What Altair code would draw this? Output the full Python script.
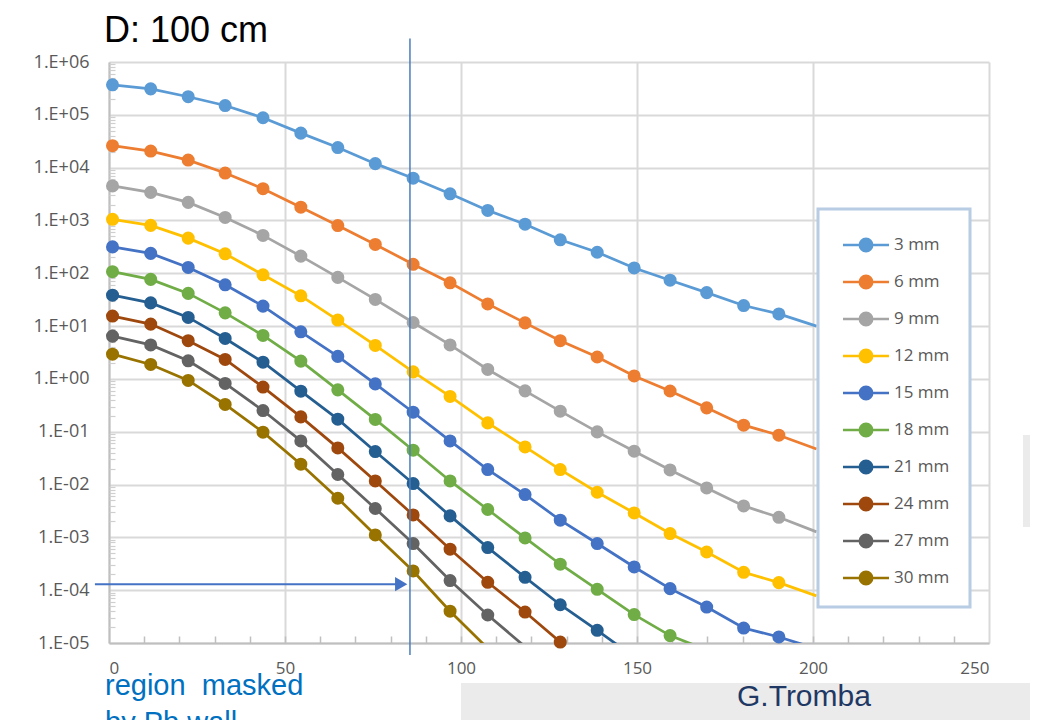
import altair as alt
import pandas as pd

# ---------------- data ----------------
x_pos = [1.0, 11.85, 22.5, 33.0, 43.75, 54.5, 65.0, 75.65, 86.4, 96.9,
         107.6, 118.2, 128.2, 138.7, 149.2, 159.4, 169.8, 180.3, 190.3, 201.0]

series = ["3 mm", "6 mm", "9 mm", "12 mm", "15 mm", "18 mm", "21 mm", "24 mm", "27 mm", "30 mm"]
colors = ["#5B9BD5", "#ED7D31", "#A5A5A5", "#FFC000", "#4472C4",
          "#70AD47", "#255E91", "#9E480E", "#636363", "#997300"]

v3 = [3.7e5, 3.1e5, 2.2e5, 1.5e5, 8.8e4, 4.5e4, 2.4e4, 1.19e4, 6.3e3, 3.2e3,
      1.55e3, 850, 430, 250, 126, 74, 43, 24.5, 17, 10]
v6 = [2.6e4, 2.06e4, 1.39e4, 7.9e3, 4.0e3, 1.78e3, 800, 352, 148, 66,
      26.3, 11.5, 5.3, 2.6, 1.14, 0.59, 0.283, 0.133, 0.086, 0.047]
v9 = [4.5e3, 3.4e3, 2.2e3, 1.14e3, 521, 211, 83.6, 32, 11.7, 4.4,
      1.51, 0.594, 0.245, 0.0993, 0.0428, 0.0189, 0.00863, 0.00394, 0.0024, 0.00127]
v12 = [1.05e3, 807, 463, 234, 93.5, 37.4, 13.0, 4.3, 1.36, 0.465,
       0.147, 0.0516, 0.0192, 0.00715, 0.0029, 0.00118, 5.28e-4, 2.18e-4, 1.39e-4, 7.8e-5]
v15 = [316, 238, 129, 60.4, 23.9, 7.8, 2.67, 0.805, 0.234, 0.067,
       0.0192, 0.00647, 0.00211, 7.64e-4, 2.75e-4, 1.07e-4, 4.8e-5, 1.92e-5, 1.3e-5, 7.8e-6]
v18 = [107, 76.6, 41.6, 17.8, 6.65, 2.17, 0.62, 0.171, 0.0447, 0.0117,
       0.00337, 9.75e-4, 3.1e-4, 1.04e-4, 3.45e-5, 1.38e-5, 7.4e-6]
v21 = [38.5, 27.5, 14.6, 5.83, 2.07, 0.586, 0.173, 0.0422, 0.01045, 0.00255,
       6.4e-4, 1.75e-4, 5.3e-5, 1.74e-5, 5.4e-6]
v24 = [15.5, 10.9, 5.3, 2.34, 0.7, 0.191, 0.0494, 0.0117, 0.00266, 5.96e-4,
       1.41e-4, 3.86e-5, 1.04e-5, 2.5e-6]
v27 = [6.46, 4.4, 2.2, 0.82, 0.252, 0.067, 0.0155, 0.00352, 7.64e-4, 1.52e-4,
       3.39e-5, 8.5e-6]
v30 = [2.94, 1.88, 0.935, 0.328, 0.098, 0.0243, 0.0055, 0.00111, 2.31e-4, 4.0e-5,
       7.9e-6]
values = [v3, v6, v9, v12, v15, v18, v21, v24, v27, v30]

x_ticks = [0, 50, 100, 150, 200, 250]
x_minor = list(range(10, 250, 10))
y_ticks = [1e-5, 1e-4, 1e-3, 1e-2, 1e-1, 1e0, 1e1, 1e2, 1e3, 1e4, 1e5, 1e6]
y_minor = [m * t for t in y_ticks[:-1] for m in range(2, 10)]

# annotations (data coordinates)
vline_x = [85.5]
vline_y = [2.8e6]
vline_y2 = [5.9e-6]
arrow_x = [-4.0]
arrow_x2 = [83.0]
arrow_y = [1.3e-4]
arrow_head_x = [83.0]

rows = []
for name, vals in zip(series, values):
    for xv, yv in zip(x_pos, vals):
        rows.append({"x": xv, "y": yv, "series": name})
df = pd.DataFrame(rows)

W, H = 880, 581
LABEL_FONT = "Open Sans"

xs = alt.Scale(domain=[0, 250], nice=False, zero=False)
ys = alt.Scale(type="log", domain=[1e-5, 1e6], nice=False)

x_axis = alt.Axis(values=x_ticks, grid=True, gridColor="#D9D9D9", gridWidth=2,
                  ticks=False, domainColor="#BFBFBF", domainWidth=2,
                  labelFont=LABEL_FONT, labelFontSize=17, labelColor="#595959",
                  labelPadding=17, title=None)
y_axis = alt.Axis(values=y_ticks, grid=True, gridColor="#D9D9D9", gridWidth=2,
                  ticks=False, domainColor="#BFBFBF", domainWidth=2,
                  labelFont=LABEL_FONT, labelFontSize=18, labelColor="#595959",
                  labelPadding=20, title=None,
                  labelExpr="'1.E' + (datum.value >= 1 ? '+' : '-') + "
                            "(abs(round(log(datum.value)/LN10)) < 10 ? '0' : '') + "
                            "abs(round(log(datum.value)/LN10))")
x_minor_axis = alt.Axis(orient="top", offset=-H, values=x_minor, labels=False, grid=False,
                        domain=False, ticks=True, tickSize=7, tickColor="#BFBFBF",
                        tickWidth=1.5, title=None)
y_minor_axis = alt.Axis(orient="right", offset=-W, values=y_minor, labels=False, grid=False,
                        domain=False, ticks=True, tickSize=6, tickColor="#CFCFCF",
                        tickWidth=1.2, title=None)

sym_path = ("M-2,0H2M-0.54,0A0.54,0.54,0,1,1,0.54,0A0.54,0.54,0,1,1,-0.54,0Z")
legend_kw = dict(orient="none", legendX=744, legendY=170, title=None,
                 symbolType=sym_path, symbolSize=529, symbolStrokeWidth=2.5,
                 labelFont=LABEL_FONT, labelFontSize=17, labelColor="#595959",
                 labelOffset=15, rowPadding=12, padding=0)

color_scale_s = alt.Scale(domain=series, range=colors)
color_scale_f = alt.Scale(domain=series, range=colors)

one = pd.DataFrame({"a": [0]})

# background decorations
deco = alt.Chart(one).mark_rect(color="#EBEBEB").encode(
    x=alt.value(352), x2=alt.value(929), y=alt.value(621), y2=alt.value(670))
deco2 = alt.Chart(one).mark_rect(color="#EBEBEB").encode(
    x=alt.value(914), x2=alt.value(929), y=alt.value(373), y2=alt.value(465))

lines = alt.Chart(df).mark_line(strokeWidth=2.75, clip=True).encode(
    x=alt.X("x:Q", scale=xs, axis=x_axis),
    y=alt.Y("y:Q", scale=ys, axis=y_axis),
    stroke=alt.Stroke("series:N", scale=color_scale_s, legend=alt.Legend(**legend_kw)),
    detail="series:N",
)

points = alt.Chart(df).transform_filter(
    "datum.y >= 1e-5 && datum.x < 200"
).mark_point(filled=True, size=170, opacity=1).encode(
    x=alt.X("x:Q", scale=xs, axis=x_minor_axis),
    y=alt.Y("y:Q", scale=ys, axis=y_minor_axis),
    fill=alt.Fill("series:N", scale=color_scale_f, legend=alt.Legend(**legend_kw)),
)

legend_box = alt.Chart(one).mark_rect(fill="white", stroke="#B8CCE4", strokeWidth=3).encode(
    x=alt.value(709), x2=alt.value(861), y=alt.value(147), y2=alt.value(545))

vline = alt.Chart(pd.DataFrame({"x": vline_x, "y": vline_y, "y2": vline_y2})).mark_rule(
    color="#4A7EBB", strokeWidth=1.5, clip=False).encode(
    x=alt.X("x:Q", scale=xs, axis=None),
    y=alt.Y("y:Q", scale=ys, axis=None),
    y2="y2:Q")

arrow = alt.Chart(pd.DataFrame({"x": arrow_x, "x2": arrow_x2, "y": arrow_y})).mark_rule(
    color="#4472C4", strokeWidth=2, clip=False).encode(
    x=alt.X("x:Q", scale=xs, axis=None), x2="x2:Q",
    y=alt.Y("y:Q", scale=ys, axis=None))

arrow_head = alt.Chart(pd.DataFrame({"x": arrow_head_x, "y": arrow_y})).mark_point(
    shape="triangle-right", filled=True, size=200, color="#4472C4", opacity=1, clip=False).encode(
    x=alt.X("x:Q", scale=xs, axis=None),
    y=alt.Y("y:Q", scale=ys, axis=None))

title_txt = alt.Chart(one).mark_text(text="D: 100 cm", font="Liberation Sans", fontSize=36,
                                     color="#000000", align="left", baseline="alphabetic").encode(
    x=alt.value(-5), y=alt.value(-20))
region_txt = alt.Chart(one).mark_text(text=["region\u00a0 masked", "by Pb wall"], font="Liberation Sans",
                                      fontSize=29, color="#0070C0", align="left",
                                      baseline="alphabetic", lineHeight=37).encode(
    x=alt.value(-4), y=alt.value(633))
author_txt = alt.Chart(one).mark_text(text="G.Tromba", font="Liberation Sans", fontSize=30,
                                      color="#1F3864", align="left", baseline="alphabetic").encode(
    x=alt.value(628), y=alt.value(644))

chart = alt.layer(
    deco, deco2, lines, points, legend_box, vline, arrow, arrow_head,
    title_txt, region_txt, author_txt
).resolve_axis(
    x="independent", y="independent"
).properties(
    width=W, height=H, autosize=alt.AutoSizeParams(type="none"),
    padding={"left": 101, "top": 54, "right": 41, "bottom": 77}
).configure_view(strokeWidth=0)

chart.save("out.html", embed_options={"renderer": "svg", "actions": False})
